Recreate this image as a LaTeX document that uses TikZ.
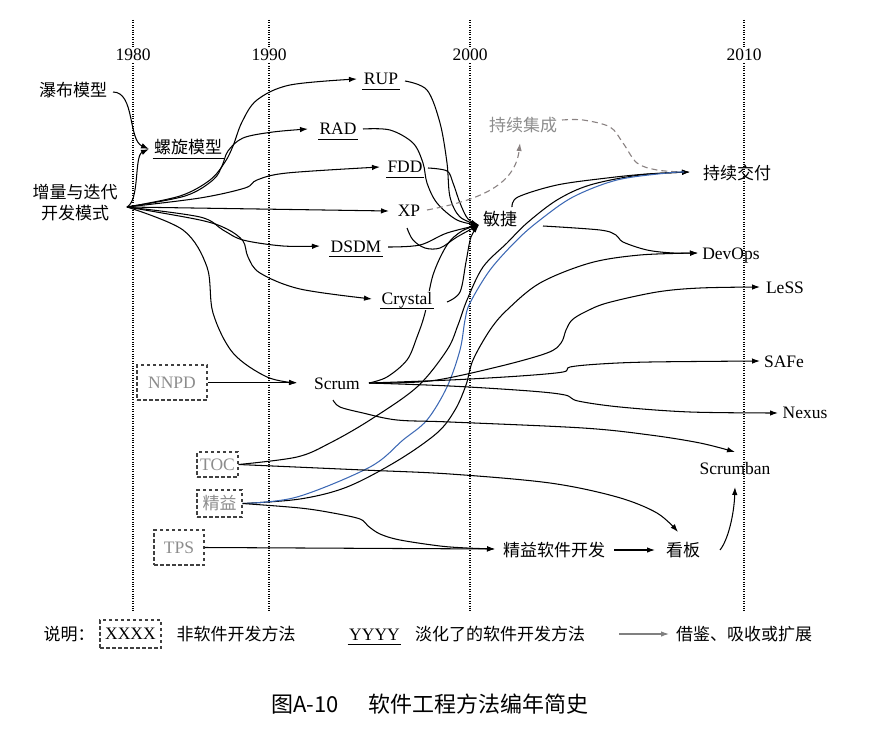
\documentclass[tikz,border=0pt]{standalone}
\usepackage{fontspec}
\setmainfont{Liberation Serif}
\newfontfamily\cjk{Noto Sans CJK SC}
\usetikzlibrary{arrows.meta}
\definecolor{txtgray}{HTML}{8C8C8C}
\definecolor{dgray}{HTML}{8A8282}
\definecolor{lineblue}{HTML}{3C68B4}
\newcommand\myul[1]{\setbox0\hbox{#1}\rlap{\hspace{-1.5pt}\rule[-4.5pt]{\dimexpr\wd0+3pt\relax}{0.7pt}}\box0}
\begin{document}
\begin{tikzpicture}[x=1pt,y=-1pt,
  lat/.style={font=\fontsize{17.5}{21}\selectfont, inner sep=1pt, anchor=base},
  zh/.style={font=\fontsize{17}{21}\selectfont\cjk, inner sep=1pt},
  year/.style={lat, fill=white, inner sep=2pt},
  yearline/.style={line width=1.1pt, dash pattern=on 1pt off 1.4pt},
  con/.style={line width=1.05pt, -{Latex[length=8pt,width=5.5pt]}},
  plainc/.style={line width=1.05pt},
  bluec/.style={line width=1.05pt, draw=lineblue},
  dbox/.style={draw=black!75, dash pattern=on 3.5pt off 2.5pt, line width=1.1pt, inner sep=0pt},
  gdash/.style={draw=dgray, dash pattern=on 6pt off 4pt, line width=1.1pt},
  sm/.style={smooth, tension=0.55}
]
\useasboundingbox (0,0) rectangle (869,735);

% year lines
\draw[yearline] (133,20) -- (133,612);
\draw[yearline] (269,20) -- (269,612);
\draw[yearline] (470,20) -- (470,612);
\draw[yearline] (744,20) -- (744,612);
\node[year] (y1980) at (133,61) {1980};
\node[year] (y1990) at (269,61) {1990};
\node[year] (y2000) at (470,61) {2000};
\node[year] (y2010) at (744,61) {2010};

% tip coordinates
\coordinate (O) at (127,207);
\coordinate (LXtip) at (149,149);
\coordinate (Atip) at (479,225);
\coordinate (CDtip) at (690,172);
\coordinate (DOtip) at (698,253);

% nodes
\node[zh] (pubu) at (73,90) {瀑布模型};
\node[zh,anchor=base] (luoxuan) at (188,154) {\myul{螺旋模型}};
\node[zh,align=center] (zengliang) at (75,202.5) {增量与迭代\\开发模式};
\node[lat] (rup) at (381,85) {\myul{RUP}};
\node[lat] (rad) at (338,135) {\myul{RAD}};
\node[lat] (fdd) at (405,173) {\myul{FDD}};
\node[lat] (xp) at (409,217) {XP};
\node[lat] (dsdm) at (356,252) {\myul{DSDM}};
\node[zh] (minjie) at (500,219.5) {敏捷};
\node[zh,text=txtgray] (chixuji) at (523,125.5) {持续集成};
\node[zh] (chixujiao) at (737,172.5) {持续交付};
\node[lat] (devops) at (731,259) {DevOps};
\node[lat] (less) at (785,293) {LeSS};
\node[lat] (safe) at (784,367) {SAFe};
\node[lat] (nexus) at (805,418) {Nexus};
\node[lat] (scrumban) at (735,474) {Scrumban};
\node[zh] (kanban) at (683,550) {看板};
\node[zh] (lsd) at (554,550) {精益软件开发};
\node[lat] (scrum) at (337,389) {Scrum};
\node[lat,anchor=center,dbox,text=txtgray,minimum width=70pt,minimum height=35pt] (nnpd) at (172,382.5) {NNPD};
\node[lat,anchor=center,dbox,text=txtgray,minimum width=41pt,minimum height=25pt] (toc) at (217.5,464.5) {TOC};
\node[zh,dbox,text=txtgray,minimum width=45pt,minimum height=27pt] (jy) at (219.5,503.5) {精益};
\node[lat,anchor=center,dbox,text=txtgray,minimum width=50pt,minimum height=35pt] (tps) at (179,547.5) {TPS};

% early curves
\draw[con] (113,92) .. controls (135,92) and (128,140) .. (LXtip);
\draw[con] (O) .. controls (140,200) and (134,156) .. (LXtip);
\draw[con] plot[sm] coordinates {(O) (180,196) (210,180) (225,162) (233,146) (242,122) (257,100) (290,85) (357,79)};
\draw[con] plot[sm] coordinates {(O) (185,196) (213,180) (222,166) (228,151) (243,138) (273,132) (308,129)};
\draw[con] plot[sm] coordinates {(O) (200,198) (245,188) (257,180) (287,173) (380,167)};
\draw[con] (O) -- (389,211);
\draw[con] plot[sm] coordinates {(O) (200,217) (223,230) (243,240) (283,246) (320,246)};
\draw[con] plot[sm] coordinates {(O) (200,220) (227,229) (243,241) (248,257) (260,273) (300,289) (372,299)};
\draw[con] plot[sm] coordinates {(O) (183,230) (207,267) (213,313) (233,353) (267,377) (297,383)};
\draw[con] (nnpd.east) -- (297,382.5);

% to agile
\draw[con] plot[sm] coordinates {(405,81) (427,90) (440,123) (447,163) (450,197) (460,217) (Atip)};
\draw[con] plot[sm] coordinates {(363,129) (390,130) (413,143) (423,163) (427,183) (437,203) (457,220) (Atip)};
\draw[con] plot[sm] coordinates {(428,168) (447,171) (453,183) (460,203) (468,219) (Atip)};
\draw[con] plot[sm] coordinates {(407,228) (413,240) (425,248) (440,248) (457,237) (Atip)};
\draw[con] plot[sm] coordinates {(388,247) (420,245) (447,233) (Atip)};
\draw[con] plot[sm] coordinates {(447,302) (460,292) (466,262) (471,237) (Atip)};
\draw[con] plot[sm] coordinates {(369,383) (387,377) (407,360) (417,337) (425,313) (433,275) (447,245) (462,231) (Atip)};
\node[lat,fill=white] (crystal) at (407,304) {\myul{Crystal}};

% continuous integration (dashed)
\draw[gdash,-{Latex[length=8pt,width=5.5pt]}] (427,210) .. controls (480,200) and (515,185) .. (520,143);
\draw[gdash] plot[sm] coordinates {(562,120) (583,120) (610,127) (623,143) (637,163) (657,170) (682,172)};

% from agile
\draw[con] plot[sm] coordinates {(512,207) (518,197) (557,185) (607,178) (647,174) (CDtip)};
\draw[con] plot[sm] coordinates {(543,226) (600,230) (616,235) (623,242) (647,250) (673,253) (DOtip)};

% big S curves
\draw[con] plot[sm] coordinates {(toc.east) (297,457) (330,443) (370,420) (417,387) (447,350) (458,325) (467,300) (483,267) (507,243) (527,223) (557,200) (590,185) (640,175) (CDtip)};
\draw[con] plot[sm] coordinates {(jy.east) (300,499) (347,487) (397,461) (437,433) (455,410) (466,385) (473,360) (490,330) (507,310) (540,283) (590,263) (640,255) (DOtip)};
\draw[bluec] plot[sm] coordinates {(jy.east) (297,497) (370,467) (403,440) (427,420) (447,387) (460,350) (465,320) (470,303) (490,270) (517,240) (540,220) (573,197) (617,180) (667,173) (684,172)};

% from Scrum
\draw[con] plot[sm] coordinates {(369,383) (430,381) (497,367) (547,353) (561,343) (566,330) (572,320) (585,312) (607,303) (657,292) (700,288) (760,287)};
\draw[con] plot[sm] coordinates {(369,383) (450,380) (520,376) (563,372) (570,367) (600,364) (650,362) (760,361)};
\draw[con] plot[sm] coordinates {(369,383) (450,386) (530,391) (565,395) (578,401) (620,407) (690,412) (778,413)};
\draw[con] plot[sm] coordinates {(333,400) (340,407) (363,413) (397,420) (450,422) (583,428) (650,435) (700,443) (735,452)};

% lean / kanban
\draw[con] plot[sm] coordinates {(toc.east) (363,470) (450,474) (550,483) (617,497) (657,513) (678,532)};
\draw[con] (tps.east) -- (495,549);
\draw[con] plot[sm] coordinates {(jy.east) (300,508) (333,513) (360,519) (368,526) (380,534) (400,540) (440,546) (467,548) (495,549)};
\draw[con] (lsd.east) ++(8,0) -- (655,550);
\draw[con] (720,550) .. controls (728,540) and (734,515) .. (735,487);

% legend
\node[zh] (shuoming) at (69,634) {说明：};
\node[lat,anchor=center,dbox,minimum width=61pt,minimum height=28pt] (xxxx) at (130.5,634) {XXXX};
\node[zh] (feiruan) at (236,634) {非软件开发方法};
\node[lat] (yyyy) at (374.5,640) {\myul{YYYY}};
\node[zh] (danhua) at (500,634) {淡化了的软件开发方法};
\coordinate (lg1) at (619,634);
\coordinate (lg2) at (669,634);
\draw[line width=1.05pt, draw=gray, -{Latex[length=8pt,width=5.5pt]}] (lg1) -- (lg2);
\node[zh] (jiejian) at (744,634) {借鉴、吸收或扩展};

% caption
\node[font=\fontsize{22}{26}\selectfont\cjk, inner sep=0pt] (caption) at (430,704) {图A-10\hspace{30pt}软件工程方法编年简史};
\end{tikzpicture}
\end{document}
